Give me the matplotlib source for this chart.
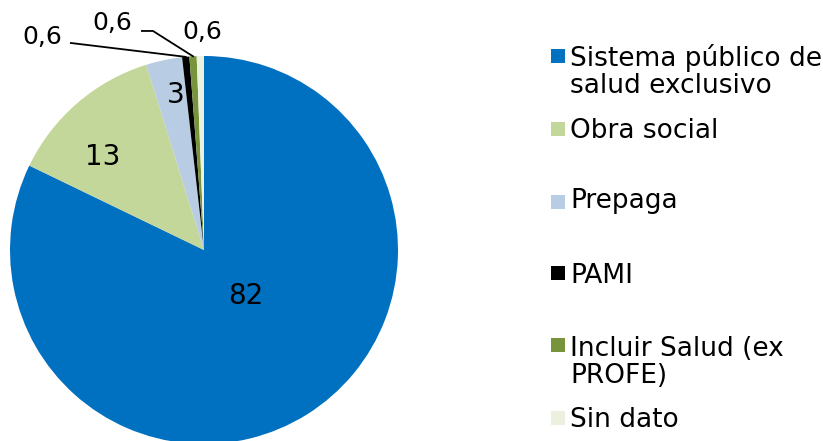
import numpy as np
import matplotlib
matplotlib.use("Agg")
import matplotlib.pyplot as plt
from matplotlib.patches import Rectangle

categories = ["Sistema público de\nsalud exclusivo", "Obra social", "Prepaga", "PAMI",
              "Incluir Salud (ex\nPROFE)", "Sin dato"]
values = [82, 13, 3, 0.6, 0.6, 0.6]
value_labels = ["82", "13", "3", "0,6", "0,6", "0,6"]
colors = ["#0070C0", "#C4D79B", "#B8CCE4", "#000000", "#77933C", "#EBF1DE"]

plt.rcParams['font.family'] = ['DejaVu Sans']

fig = plt.figure(figsize=(8.23, 4.41), dpi=100)
ax = fig.add_axes([10 / 823, -3 / 441, 388 / 823, 388 / 441])
wedges, _ = ax.pie(values, colors=colors, startangle=90, counterclock=False,
                   wedgeprops=dict(linewidth=0))
ax.set_xlim(-1, 1)
ax.set_ylim(-1, 1)
ax.set_aspect('equal')
ax.axis('off')

def mid(w):
    return np.deg2rad((w.theta1 + w.theta2) / 2)

# inside labels (radius fraction, angle shift from wedge middle)
inside = {0: (0.32, 10), 1: (0.71, 6.5), 2: (0.81, -1.5)}
for i, (r, dang) in inside.items():
    a = mid(wedges[i]) + np.deg2rad(dang)
    ax.text(r * np.cos(a), r * np.sin(a), value_labels[i], ha='center', va='center',
            fontsize=20, color='black')

# small slices: labels outside, two with leader lines
ax.text(-0.832, 1.098, value_labels[3], ha='center', va='center', fontsize=18, clip_on=False)
a = mid(wedges[3])
ax.plot([-0.686, np.cos(a)], [1.067, np.sin(a)], color='black', lw=1.3, clip_on=False)

ax.text(-0.474, 1.170, value_labels[4], ha='center', va='center', fontsize=18, clip_on=False)
a = mid(wedges[4])
ax.plot([-0.32, -0.263, np.cos(a)], [1.129, 1.129, np.sin(a)], color='black', lw=1.3,
        clip_on=False)

ax.text(-0.01, 1.124, value_labels[5], ha='center', va='center', fontsize=18, clip_on=False)

# legend (baseline = last line of each entry)
W, H = 823, 441
sq_y = [56, 129, 202, 273, 345, 418]
base_y = [93, 138, 208, 283, 383, 427]
for lab, col, yc, yb in zip(categories, colors, sq_y, base_y):
    fig.patches.append(Rectangle((551 / W, 1 - (yc + 7) / H), 14 / W, 14 / H,
                                 transform=fig.transFigure, facecolor=col, edgecolor='none'))
    fig.text(570 / W, 1 - yb / H, lab, ha='left', va='baseline', fontsize=19,
             linespacing=1.05)

fig.savefig("out.png", dpi=100)
